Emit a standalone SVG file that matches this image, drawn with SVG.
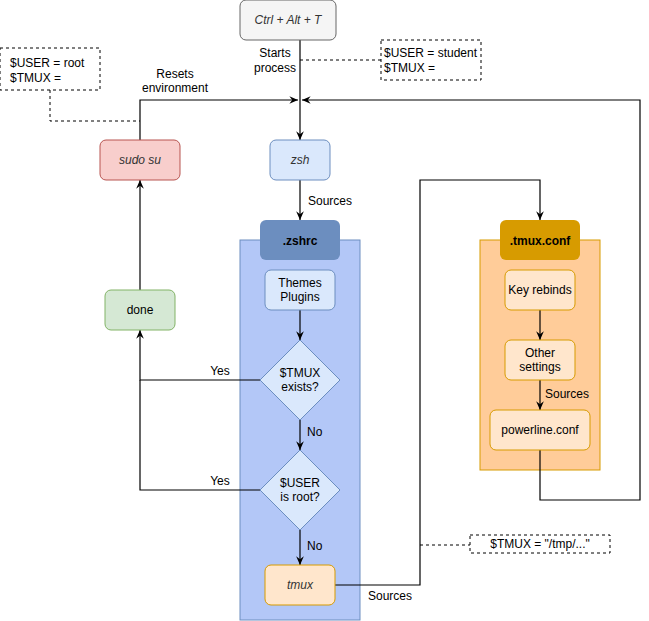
<svg xmlns="http://www.w3.org/2000/svg" width="649" height="621" viewBox="0 0 649 621">
<defs>
<style>
text{font-family:"Liberation Sans",Arial,sans-serif;font-size:12px;fill:#000;text-anchor:middle}
.it{font-style:italic;fill:#333}
.c{fill:none;stroke:#000;stroke-width:1.2}
.d{fill:none;stroke:#000;stroke-dasharray:3,3}
.db{fill:#fff;stroke:#000;stroke-dasharray:3,3}
.lbl{text-anchor:start}
</style>
<marker id="a" viewBox="0 0 10 10" refX="9" refY="5" markerWidth="8" markerHeight="8" orient="auto"><path d="M0,1 L9,5 L0,9 L3,5 Z" fill="#000"/></marker>
</defs>
<rect width="649" height="621" fill="#fff"/>
<g id="zshrc-container"><rect x="240" y="240" width="120" height="380" fill="#b3c7f7" stroke="#6c8ebf"/><rect x="260" y="220" width="80" height="40" rx="6" fill="#6c8ebf"/><text x="300" y="245" font-weight="bold">.zshrc</text></g>
<g id="tmuxconf-container"><rect x="480" y="240" width="120" height="230" fill="#ffcc99" stroke="#d79b00"/><rect x="500" y="220" width="80" height="40" rx="6" fill="#d79b00"/><text x="540" y="245" font-weight="bold">.tmux.conf</text></g>
<g id="connectors">
<path class="c" d="M300 40 V140" marker-end="url(#a)"/>
<path class="c" d="M140 140 V100 H298" marker-end="url(#a)"/>
<path class="c" d="M540 450 V500 H640 V100 H302" marker-end="url(#a)"/>
<path class="c" d="M300 180 V220" marker-end="url(#a)"/>
<path class="c" d="M300 310 V340" marker-end="url(#a)"/>
<path class="c" d="M300 420 V450" marker-end="url(#a)"/>
<path class="c" d="M300 530 V565" marker-end="url(#a)"/>
<path class="c" d="M260 380 H140 V330" marker-end="url(#a)"/>
<path class="c" d="M260 490 H140 V380"/>
<path class="c" d="M140 290 V180" marker-end="url(#a)"/>
<path class="c" d="M335 585 H420 V180 H540 V220" marker-end="url(#a)"/>
<path class="c" d="M540 310 V340" marker-end="url(#a)"/>
<path class="c" d="M540 380 V410" marker-end="url(#a)"/>
<path class="d" d="M300 60 H381"/>
<path class="d" d="M50 90 V121 H140"/>
<path class="d" d="M420 545 H470"/>
<text x="275" y="57">Starts</text><text x="275" y="72">process</text>
<text x="175" y="78">Resets</text><text x="175" y="92">environment</text>
<text x="308" y="205" class="lbl">Sources</text>
<text x="220" y="375">Yes</text><text x="220" y="485">Yes</text>
<text x="307" y="436" class="lbl">No</text><text x="307" y="550" class="lbl">No</text>
<text x="390" y="600">Sources</text>
<text x="545" y="398" class="lbl">Sources</text>
</g>
<g id="ctrl"><rect x="240" y="0" width="96" height="40" rx="6" fill="#f5f5f5" stroke="#666"/><text x="288" y="24" class="it">Ctrl + Alt + T</text></g>
<g id="student"><rect x="381" y="40" width="100" height="40" class="db"/><text x="384" y="57" class="lbl">$USER = student</text><text x="384" y="72" class="lbl">$TMUX =</text></g>
<g id="root"><rect x="0" y="48" width="100" height="42" class="db"/><text x="10" y="67" class="lbl">$USER = root</text><text x="10" y="82" class="lbl">$TMUX =</text></g>
<g id="tmpbox"><rect x="470" y="535" width="140" height="18" class="db"/><text x="540" y="548">$TMUX = "/tmp/..."</text></g>
<g id="sudo"><rect x="100" y="140" width="80" height="40" rx="6" fill="#f8cecc" stroke="#b85450"/><text x="140" y="164" class="it">sudo su</text></g>
<g id="zsh"><rect x="270" y="140" width="60" height="40" rx="6" fill="#dae8fc" stroke="#6c8ebf"/><text x="300" y="164" class="it">zsh</text></g>
<g id="done"><rect x="105" y="290" width="70" height="40" rx="6" fill="#d5e8d4" stroke="#82b366"/><text x="140" y="314">done</text></g>
<g id="themes"><rect x="265" y="270" width="70" height="40" rx="6" fill="#dae8fc" stroke="#6c8ebf"/><text x="300" y="287">Themes</text><text x="300" y="301">Plugins</text></g>
<g id="tmuxexists"><path d="M300 340 L340 380 L300 420 L260 380 Z" fill="#dae8fc" stroke="#6c8ebf"/><text x="300" y="377">$TMUX</text><text x="300" y="391">exists?</text></g>
<g id="userroot"><path d="M300 450 L340 490 L300 530 L260 490 Z" fill="#dae8fc" stroke="#6c8ebf"/><text x="300" y="487">$USER</text><text x="300" y="501">is root?</text></g>
<g id="tmux"><rect x="265" y="565" width="70" height="40" rx="6" fill="#ffe6cc" stroke="#d79b00"/><text x="300" y="589" class="it">tmux</text></g>
<g id="keyrebinds"><rect x="505" y="270" width="70" height="40" rx="6" fill="#ffe6cc" stroke="#d79b00"/><text x="540" y="294">Key rebinds</text></g>
<g id="other"><rect x="505" y="340" width="70" height="40" rx="6" fill="#ffe6cc" stroke="#d79b00"/><text x="540" y="357">Other</text><text x="540" y="371">settings</text></g>
<g id="powerline"><rect x="490" y="410" width="100" height="40" rx="6" fill="#ffe6cc" stroke="#d79b00"/><text x="540" y="434">powerline.conf</text></g>
</svg>
